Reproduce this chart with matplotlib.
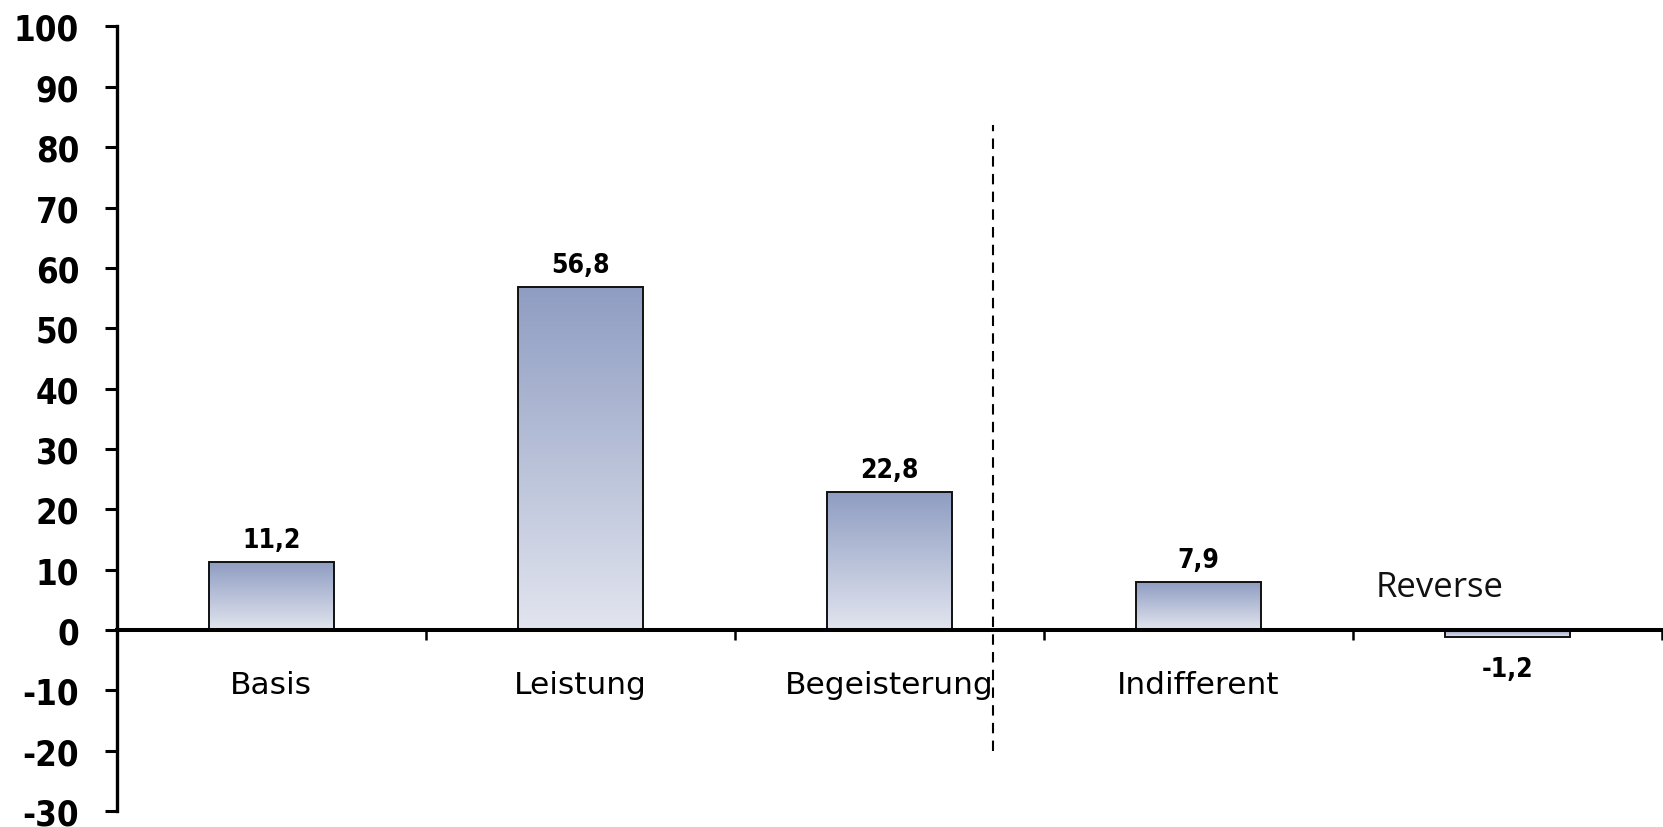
import numpy as np
import matplotlib
matplotlib.use("Agg")
import matplotlib.pyplot as plt
from matplotlib import font_manager as fm
from matplotlib.colors import LinearSegmentedColormap

# ---- data ----
categories = ["Basis", "Leistung", "Begeisterung", "Indifferent", ""]
values = [11.2, 56.8, 22.8, 7.9, -1.2]
value_labels = ["11,2", "56,8", "22,8", "7,9", "-1,2"]
yticks = list(range(-30, 101, 10))
extra_label = "Reverse"

# ---- font detection ----
def has_condensed():
    try:
        p = fm.findfont(fm.FontProperties(family="DejaVu Sans", stretch="condensed", weight="bold"),
                        fallback_to_default=False)
        return "Condensed" in p
    except Exception:
        return False

cond = has_condensed()
k = 1.0 if cond else 0.9
stretch = "condensed" if cond else "normal"

fig = plt.figure(figsize=(16.63, 8.28), dpi=100)
ax = fig.add_axes([0.0702, 0.0193, 0.9292, 0.9475])

x = np.arange(len(categories))
bars = ax.bar(x, values, width=0.404, color="none", edgecolor="#111111", linewidth=1.4, zorder=3)

cmap = LinearSegmentedColormap.from_list("g", ["#E2E5EF", "#8F9DC2"])
grad = np.linspace(0, 1, 256).reshape(-1, 1)
for b in bars:
    bx, by = b.get_x(), b.get_y()
    bw, bh = b.get_width(), b.get_height()
    y0, y1 = min(by, by + bh), max(by, by + bh)
    im = ax.imshow(grad, extent=(bx, bx + bw, y0, y1), origin="lower", cmap=cmap,
                   aspect="auto", zorder=2, interpolation="bilinear")
    im.set_clip_path(b)

ax.set_xlim(-0.5, len(categories) - 0.5)
ax.set_ylim(-30, 100)
ax.set_yticks(yticks)
ax.set_yticklabels([str(t) for t in yticks])
for lab in ax.get_yticklabels():
    lab.set_fontweight("bold")
    lab.set_fontstretch(stretch)
    lab.set_fontsize(25 * k)
ax.tick_params(axis="y", direction="out", length=9, width=2.2, pad=18, colors="black")

ax.set_xticks(np.arange(len(categories)) + 0.5)
ax.set_xticklabels([])
ax.tick_params(axis="x", direction="out", length=7, width=1.8)

for s in ["top", "right"]:
    ax.spines[s].set_visible(False)
ax.spines["left"].set_linewidth(2.4)
ax.spines["bottom"].set_position(("data", 0))
ax.spines["bottom"].set_linewidth(2.9)
ax.spines["bottom"].set_zorder(4)

# category labels
for xi, c in zip(x, categories):
    ax.text(xi, -10.5, c, ha="center", va="baseline", fontsize=22.5,
            color="black", zorder=5)

# value labels
for b, v, t in zip(bars, values, value_labels):
    cx = b.get_x() + b.get_width() / 2
    off = 11 if v >= 0 else -28
    ax.annotate(t, (cx, v), xytext=(0, off), textcoords="offset points",
                ha="center", va="baseline", fontsize=19 * k, fontweight="bold",
                fontstretch=stretch, color="black", zorder=5)

# separator
ax.vlines(2.335, -20.1, 83.6, colors="black", linewidth=1.5,
          linestyles=(0, (5, 3.5)), zorder=5)

ax.text(3.572, 5.6, extra_label, ha="left", va="baseline", fontsize=25,
        family=["Open Sans", "DejaVu Sans"], color="#111111", zorder=5)

fig.savefig("out.png", dpi=100, facecolor="white")
